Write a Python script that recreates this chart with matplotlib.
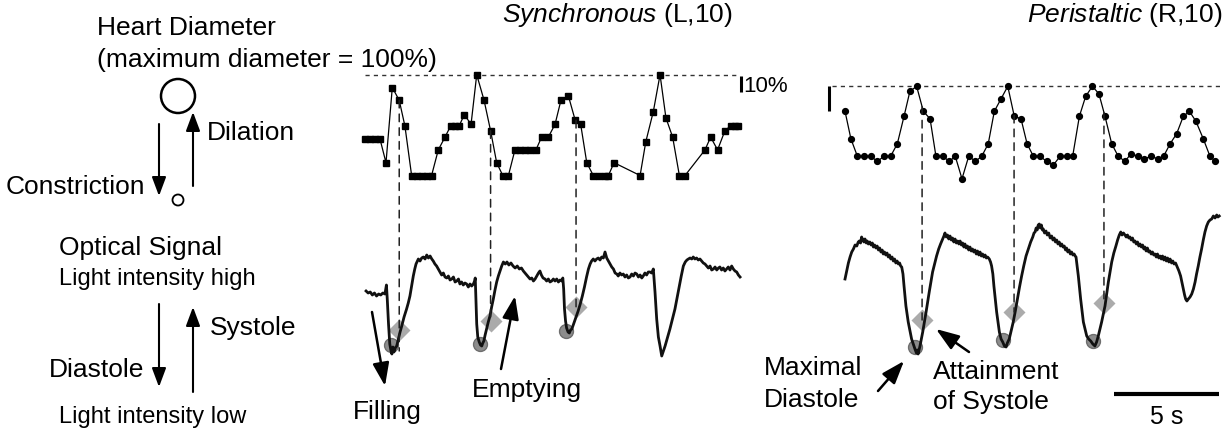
import numpy as np
import matplotlib
matplotlib.use('Agg')
import matplotlib.pyplot as plt
from matplotlib.patches import Circle, ConnectionPatch

plt.rcParams['font.family'] = 'Liberation Sans'
plt.rcParams['mathtext.fontset'] = 'custom'
plt.rcParams['mathtext.rm'] = 'Liberation Sans'
plt.rcParams['mathtext.it'] = 'Liberation Sans:italic'

#%% Heart diameter (% of maximum), time in s
sync_diam_t = [0.0, 0.24, 0.48, 0.71, 1.0, 1.30, 1.63, 1.90, 2.22, 2.46, 2.70, 2.94, 3.17,
               3.49, 3.81, 4.08, 4.29, 4.48, 4.73, 5.05, 5.32, 5.67, 5.98, 6.27, 6.56, 6.83,
               7.14, 7.38, 7.62, 7.86, 8.14, 8.41, 8.73, 9.05, 9.33, 9.68, 10.0, 10.27, 10.56,
               10.87, 11.16, 11.43, 11.59, 11.86, 13.10, 13.37, 13.73, 14.05, 14.33, 14.65,
               14.97, 15.24, 16.19, 16.46, 16.79, 17.14, 17.41, 17.62, 17.78]
sync_diam = [60, 60, 60, 60, 45, 92, 84, 68, 37, 37, 37, 37, 37,
             53, 61, 68, 68, 68, 75, 69, 100, 84, 65, 45, 37, 37,
             53, 53, 53, 53, 53, 61, 61, 69, 84, 87, 72, 69, 45,
             37, 37, 37, 37, 45, 37, 58, 77, 100, 73, 61,
             37, 37, 53, 61, 53, 65, 68, 68, 68]

peri_diam_t = [0.62, 0.90, 1.21, 1.52, 1.84, 2.16, 2.48, 2.79, 3.11, 3.43, 3.71, 4.03, 4.35,
               4.67, 4.95, 5.27, 5.59, 5.87, 6.19, 6.51, 6.83, 7.13, 7.44, 7.73, 8.05, 8.37,
               8.68, 9.0, 9.29, 9.59, 9.90, 10.22, 10.54, 10.86, 11.17, 11.46, 11.78, 12.08,
               12.40, 12.71, 13.0, 13.32, 13.63, 13.95, 14.24, 14.56, 14.87, 15.19, 15.51,
               15.79, 16.10, 16.41, 16.73, 17.02, 17.33, 17.68, 18.0, 18.25]
peri_diam = [90, 79, 72, 72, 72, 70, 72, 72, 77, 88, 98, 100, 90,
             87, 72, 72, 70, 72, 63, 72, 70, 72, 77, 90, 95, 100,
             88, 87, 77, 72, 72, 70, 68.5, 72, 72, 72, 88, 96,
             100, 97, 88, 77, 72, 70, 73, 72, 71, 72, 71,
             72, 77, 81, 88, 90, 86, 79, 72, 70]

#%% Optical signal (light intensity, a.u.), pairs of (time s, value)
sync_optical = np.array([
    (0.05, 68), (0.15, 66), (0.25, 67), (0.35, 64), (0.45, 66), (0.55, 63), (0.65, 65),
    (0.75, 64), (0.85, 66), (0.95, 65), (1.02, 74), (1.06, 60), (1.12, 35), (1.18, 15),
    (1.24, 8), (1.28, 5), (1.33, 12), (1.38, 7), (1.44, 11), (1.51, 13), (1.59, 20),
    (1.67, 27), (1.75, 33), (1.86, 42), (1.98, 50), (2.06, 56), (2.14, 63), (2.22, 73),
    (2.30, 83), (2.37, 90), (2.43, 95), (2.54, 100), (2.62, 98), (2.70, 101), (2.78, 102),
    (2.86, 100), (2.94, 104), (3.02, 101), (3.10, 103), (3.18, 100), (3.25, 98), (3.33, 95),
    (3.41, 93), (3.49, 90), (3.57, 87), (3.65, 84), (3.73, 86), (3.81, 82), (3.89, 81),
    (3.97, 83), (4.05, 79), (4.13, 80), (4.21, 82), (4.29, 77), (4.37, 78), (4.45, 80),
    (4.52, 75), (4.60, 77), (4.68, 74), (4.76, 76), (4.84, 75), (4.92, 72), (5.0, 75),
    (5.08, 73), (5.16, 75), (5.22, 78), (5.25, 81), (5.28, 60), (5.32, 35), (5.37, 22),
    (5.44, 17), (5.50, 14), (5.56, 13), (5.61, 16), (5.66, 18), (5.72, 24), (5.79, 30),
    (5.87, 37), (5.95, 43), (6.03, 52), (6.11, 60), (6.19, 69), (6.27, 77), (6.35, 83),
    (6.43, 88), (6.51, 93), (6.59, 97), (6.68, 95), (6.76, 97), (6.85, 94), (6.95, 96),
    (7.05, 93), (7.15, 91), (7.25, 93), (7.35, 90), (7.45, 91), (7.54, 88), (7.62, 86),
    (7.70, 84), (7.78, 82), (7.86, 80), (7.94, 81), (8.02, 78), (8.10, 80), (8.18, 83),
    (8.26, 86), (8.33, 88), (8.40, 84), (8.48, 81), (8.57, 80), (8.65, 78), (8.73, 80),
    (8.81, 77), (8.89, 78), (8.97, 80), (9.05, 78), (9.13, 80), (9.21, 77), (9.29, 79),
    (9.37, 78), (9.42, 81), (9.46, 70), (9.50, 50), (9.55, 38), (9.60, 31), (9.67, 27),
    (9.73, 26), (9.79, 29), (9.85, 30), (9.95, 36), (10.05, 42), (10.15, 48), (10.25, 55),
    (10.35, 63), (10.45, 72), (10.55, 82), (10.64, 90), (10.72, 95), (10.79, 98),
    (10.87, 100), (10.95, 98), (11.03, 100), (11.11, 101), (11.19, 99), (11.27, 102),
    (11.35, 101), (11.43, 107), (11.51, 101), (11.59, 98), (11.67, 95), (11.75, 92),
    (11.83, 90), (11.91, 86), (11.99, 85), (12.06, 83), (12.14, 86), (12.22, 84),
    (12.30, 85), (12.38, 82), (12.46, 84), (12.54, 81), (12.62, 82), (12.70, 85),
    (12.78, 83), (12.86, 86), (12.94, 85), (13.02, 82), (13.10, 84), (13.18, 81),
    (13.25, 83), (13.33, 86), (13.41, 84), (13.49, 87), (13.57, 87), (13.65, 86),
    (13.73, 90), (13.77, 78), (13.81, 67), (13.89, 40), (13.97, 22), (14.05, 13),
    (14.13, 3), (14.21, 8), (14.29, 13), (14.40, 21), (14.52, 30), (14.64, 40),
    (14.76, 50), (14.86, 61), (14.97, 73), (15.06, 83), (15.16, 93), (15.25, 97),
    (15.33, 99), (15.40, 100), (15.48, 101), (15.56, 100), (15.63, 102), (15.71, 100),
    (15.79, 101), (15.87, 99), (15.95, 100), (16.03, 98), (16.11, 96), (16.19, 95),
    (16.27, 93), (16.35, 91), (16.43, 93), (16.51, 89), (16.59, 90), (16.67, 92),
    (16.75, 89), (16.83, 91), (16.90, 92), (16.98, 89), (17.06, 91), (17.14, 88),
    (17.22, 90), (17.30, 92), (17.38, 89), (17.46, 93), (17.54, 90), (17.62, 88),
    (17.70, 87), (17.78, 84), (17.86, 82)])

peri_optical = np.array([
    (0.62, 80), (0.70, 88), (0.78, 96), (0.86, 102), (0.94, 107), (1.02, 110), (1.10, 114),
    (1.18, 113), (1.25, 117), (1.30, 118), (1.36, 116), (1.41, 122), (1.47, 119),
    (1.52, 117), (1.57, 120), (1.63, 116), (1.68, 118), (1.73, 115), (1.80, 117),
    (1.86, 114), (1.92, 116), (1.97, 112), (2.03, 114), (2.09, 111), (2.15, 113),
    (2.21, 109), (2.27, 111), (2.33, 107), (2.39, 109), (2.44, 105), (2.50, 107),
    (2.56, 104), (2.62, 106), (2.68, 102), (2.74, 104), (2.80, 100), (2.86, 102),
    (2.92, 98), (2.98, 100), (3.04, 96), (3.10, 98), (3.16, 95), (3.22, 96), (3.27, 93),
    (3.32, 92), (3.38, 85), (3.43, 73), (3.52, 53), (3.63, 37), (3.79, 20), (3.95, 10),
    (4.02, 6), (4.06, 9), (4.10, 5), (4.19, 13), (4.32, 27), (4.48, 47), (4.63, 67),
    (4.79, 87), (4.98, 103), (5.08, 110), (5.17, 115), (5.27, 120), (5.33, 123),
    (5.38, 126), (5.44, 122), (5.50, 124), (5.56, 120), (5.62, 123), (5.68, 119),
    (5.74, 121), (5.80, 117), (5.86, 120), (5.92, 116), (5.98, 118), (6.04, 115),
    (6.10, 118), (6.16, 114), (6.22, 116), (6.28, 112), (6.33, 115), (6.39, 111),
    (6.45, 113), (6.51, 109), (6.57, 112), (6.63, 108), (6.69, 110), (6.75, 107),
    (6.81, 109), (6.87, 105), (6.93, 108), (6.99, 104), (7.05, 107), (7.11, 103),
    (7.17, 105), (7.23, 102), (7.29, 104), (7.35, 101), (7.41, 102), (7.49, 100),
    (7.55, 97), (7.60, 93), (7.66, 85), (7.71, 73), (7.84, 47), (7.97, 27), (8.05, 20),
    (8.13, 17), (8.21, 13), (8.29, 12), (8.35, 16), (8.44, 20), (8.53, 28), (8.63, 37),
    (8.73, 48), (8.83, 60), (8.93, 72), (9.03, 83), (9.13, 93), (9.24, 103), (9.35, 110),
    (9.46, 117), (9.56, 122), (9.62, 126), (9.67, 127), (9.72, 131), (9.77, 129),
    (9.82, 134), (9.87, 135), (9.92, 131), (9.97, 134), (10.02, 129), (10.06, 130),
    (10.12, 126), (10.19, 128), (10.25, 124), (10.32, 126), (10.39, 121), (10.46, 123),
    (10.52, 119), (10.58, 121), (10.64, 117), (10.70, 119), (10.76, 115), (10.82, 117),
    (10.88, 113), (10.94, 115), (11.0, 112), (11.06, 113), (11.12, 109), (11.17, 111),
    (11.23, 107), (11.29, 109), (11.35, 105), (11.41, 107), (11.47, 104), (11.53, 105),
    (11.58, 103), (11.62, 102), (11.68, 92), (11.73, 83), (11.84, 60), (11.97, 37),
    (12.13, 23), (12.22, 20), (12.32, 18), (12.42, 15), (12.52, 13), (12.60, 17),
    (12.68, 23), (12.84, 37), (13.0, 53), (13.16, 77), (13.32, 97), (13.42, 106),
    (13.52, 113), (13.60, 119), (13.68, 124), (13.75, 127), (13.81, 124), (13.88, 126),
    (13.95, 124), (14.01, 122), (14.07, 124), (14.13, 121), (14.19, 122), (14.25, 119),
    (14.31, 121), (14.37, 117), (14.43, 118), (14.49, 115), (14.55, 117), (14.61, 113),
    (14.67, 115), (14.73, 112), (14.79, 114), (14.85, 110), (14.90, 112), (14.96, 108),
    (15.02, 111), (15.08, 107), (15.14, 108), (15.20, 105), (15.26, 107), (15.32, 104),
    (15.38, 105), (15.44, 102), (15.50, 105), (15.56, 101), (15.62, 103), (15.68, 100),
    (15.74, 103), (15.80, 99), (15.86, 102), (15.92, 98), (15.98, 101), (16.04, 97),
    (16.10, 100), (16.17, 96), (16.23, 98), (16.29, 95), (16.36, 96), (16.44, 92),
    (16.52, 88), (16.60, 83), (16.67, 76), (16.73, 70), (16.79, 64), (16.84, 60),
    (16.90, 58), (16.97, 60), (17.05, 62), (17.13, 65), (17.21, 70), (17.29, 77),
    (17.36, 85), (17.44, 93), (17.52, 102), (17.60, 110), (17.68, 119), (17.76, 127),
    (17.84, 133), (17.92, 137), (18.0, 139), (18.08, 140), (18.16, 143), (18.24, 141),
    (18.32, 144), (18.38, 142), (18.44, 143)])

# maximal diastole (circles) and attainment of systole (diamonds)
sync_diastole_t = [1.24, 5.48, 9.57]
sync_diastole_v = [14, 15, 28]
sync_systole_t = [1.63, 5.98, 10.05]
sync_systole_v = [29, 38, 52]
sync_dash_end = [8, 38, 52]

peri_diastole_t = [3.95, 8.14, 12.43]
peri_diastole_v = [12, 19, 18]
peri_systole_t = [4.29, 8.67, 12.95]
peri_systole_v = [39, 47, 56]
peri_dash_end = [39, 47, 56]

#%% Figure layout (pixels)
W, H = 1225, 435
PX_PER_S = 21.0
fig = plt.figure(figsize=(W / 100, H / 100), dpi=100)


def px_axes(x0, x1, y0, y1, t_origin, ylim):
    ax = fig.add_axes([x0 / W, 1 - y1 / H, (x1 - x0) / W, (y1 - y0) / H])
    ax.set_xlim((x0 - t_origin) / PX_PER_S, (x1 - t_origin) / PX_PER_S)
    ax.set_ylim(*ylim)
    ax.axis('off')
    return ax


def diam_ylim(y0, y1, y_max, px_per_pct):
    return (100 - (y1 - y_max) / px_per_pct, 100 - (y0 - y_max) / px_per_pct)


ax_sd = px_axes(355, 800, 60, 190, 365, diam_ylim(60, 190, 75.7, 1.6))
ax_so = px_axes(355, 800, 200, 435, 365, (-75, 160))
ax_pd = px_axes(820, 1225, 60, 190, 832, diam_ylim(60, 190, 87.3, 2.5))
ax_po = px_axes(820, 1225, 200, 435, 832, (-75, 160))

# diameter traces
ax_sd.plot(sync_diam_t, sync_diam, '-', color='k', lw=0.9, marker='s', ms=4, zorder=3)
ax_sd.plot([0, 17.7], [100, 100], color='#333333', lw=1.0, dashes=(3, 3))
ax_sd.plot([17.9, 17.9], [99, 89], color='k', lw=2.2, solid_capstyle='butt')

ax_pd.plot(peri_diam_t, peri_diam, '-', color='k', lw=0.9, marker='o', ms=4.2, zorder=3)
ax_pd.plot([0, 18.6], [100, 100], color='#333333', lw=1.0, dashes=(3, 3))
ax_pd.plot([-0.14, -0.14], [100, 90], color='k', lw=2.2, solid_capstyle='butt')

# optical traces with event markers
for ax, trace, dt, dv, st, sv in [
        (ax_so, sync_optical, sync_diastole_t, sync_diastole_v, sync_systole_t, sync_systole_v),
        (ax_po, peri_optical, peri_diastole_t, peri_diastole_v, peri_systole_t, peri_systole_v)]:
    ax.plot(dt, dv, 'o', color='#8c8c8c', mec='#6e6e6e', ms=10, zorder=1)
    ax.plot(st, sv, 'D', color='#ababab', mec='none', ms=11, zorder=1)
    ax.plot(trace[:, 0], trace[:, 1], color='#111111', lw=2.0, zorder=3,
            solid_joinstyle='round')

# dashed guides from diameter to optical signal
for ax_d, ax_o, ts, dt, dd, ends in [
        (ax_sd, ax_so, sync_systole_t, sync_diam_t, sync_diam, sync_dash_end),
        (ax_pd, ax_po, peri_systole_t, peri_diam_t, peri_diam, peri_dash_end)]:
    for t, v in zip(ts, ends):
        cp = ConnectionPatch(xyA=(t, np.interp(t, dt, dd)), coordsA=ax_d.transData,
                             xyB=(t, v), coordsB=ax_o.transData,
                             color='#222222', lw=1.1, linestyle=(0, (5, 4)), zorder=2)
        fig.add_artist(cp)

# 5 s scale bar
ax_po.plot([13.43, 18.43], [-35, -35], color='k', lw=3, solid_capstyle='butt')
ax_po.text(15.93, -57, '5 s', fontsize=18, ha='center', va='center')

#%% Labels and schematic
ov = fig.add_axes([0, 0, 1, 1])
ov.set_xlim(0, W)
ov.set_ylim(H, 0)
ov.axis('off')

FS = 19


def label(x, y, s, ha='left', size=FS, **kw):
    ov.text(x, y, s, ha=ha, va='center', fontsize=size, **kw)


def arrow(x0, y0, x1, y1, hl=1.15, hw=0.43, lw=1.5):
    ov.annotate('', xy=(x1, y1), xytext=(x0, y0),
                arrowprops=dict(arrowstyle='-|>,head_length=%g,head_width=%g' % (hl, hw),
                                color='k', lw=lw, shrinkA=0, shrinkB=0, mutation_scale=10))


label(97, 28, 'Heart Diameter')
label(97, 60, '(maximum diameter = 100%)')
ov.add_patch(Circle((178, 97), 17, fill=False, lw=1.8, color='k'))
ov.add_patch(Circle((178, 201), 5.5, fill=False, lw=1.3, color='k'))
arrow(159, 125, 159, 197)
arrow(193, 187, 193, 113)
label(207, 133, 'Dilation')
label(145, 187, 'Constriction', ha='right')

label(59, 248, 'Optical Signal')
label(59, 279, 'Light intensity high', size=17)
arrow(159, 305, 159, 388)
arrow(193, 393, 193, 308)
label(210, 328, 'Systole')
label(144, 370, 'Diastole', ha='right')
label(59, 417, 'Light intensity low', size=17)

label(502, 15, r'$\mathit{Synchronous}$ (L,10)')
label(1222, 15, r'$\mathit{Peristaltic}$ (R,10)', ha='right')
label(743, 87, '10%', size=16)

label(353, 412, 'Filling')
arrow(372, 313, 385, 387, hl=1.4, hw=0.5, lw=1.8)
label(472, 390, 'Emptying')
arrow(501, 370, 515, 297, hl=1.4, hw=0.5, lw=1.8)
label(764, 368, 'Maximal')
label(764, 400, 'Diastole')
arrow(878, 392, 904, 362, hl=1.4, hw=0.5, lw=1.8)
label(933, 372, 'Attainment')
label(933, 402, 'of Systole')
arrow(969, 353, 936, 330, hl=1.4, hw=0.5, lw=1.8)

fig.savefig('out.png', dpi=100)
